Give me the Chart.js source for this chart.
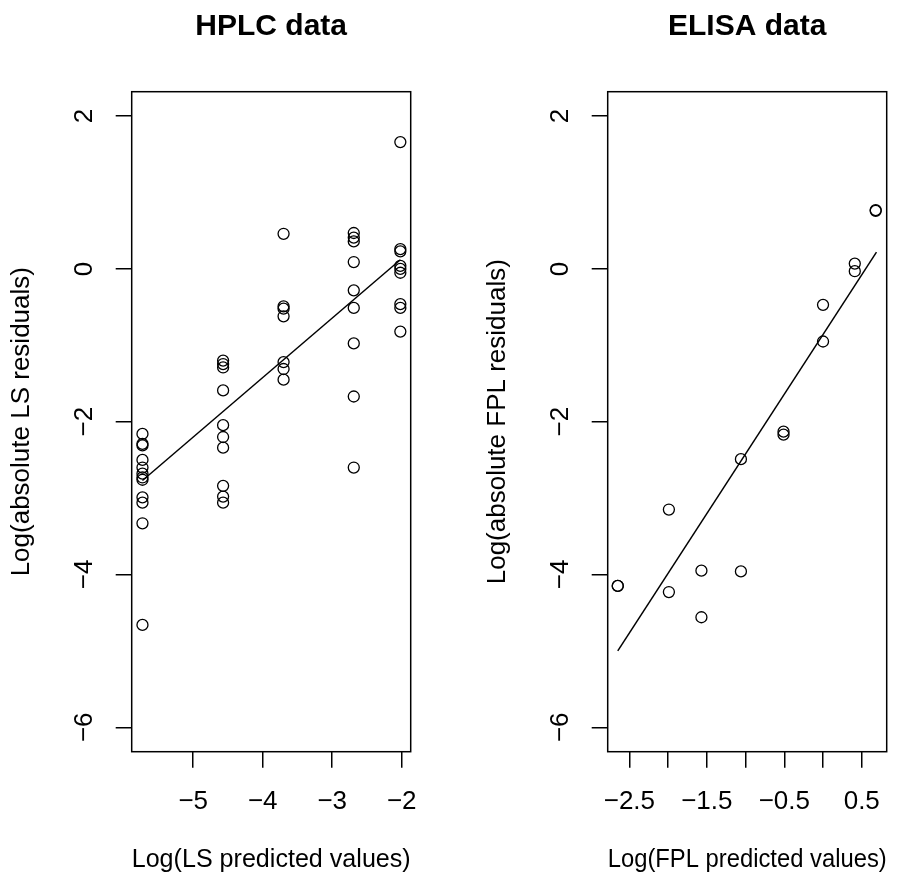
<!DOCTYPE html>
<html>
<head>
<meta charset="utf-8">
<title>HPLC and ELISA residual plots</title>
<script src="https://cdn.jsdelivr.net/npm/chart.js@4"></script>
<style>
  html, body { margin: 0; padding: 0; background: #fff; }
  #wrap { position: relative; width: 905px; height: 878px; overflow: hidden; }
  .panel { position: absolute; top: 0; height: 878px; }
</style>
</head>
<body>
<div id="wrap">
  <div class="panel" style="left:0;width:476px"><canvas id="hplcChart" width="476" height="878"></canvas></div>
  <div class="panel" style="left:476px;width:429px"><canvas id="elisaChart" width="429" height="878"></canvas></div>
</div>
<script>
// log predicted value for each concentration level, and log |residual| of the replicates at that level
const hplcLevels = [-5.73, -4.57, -3.70, -2.69, -2.02];
const hplcResiduals = [
  [-2.16, -2.29, -2.31, -2.50, -2.60, -2.68, -2.73, -2.76, -2.99, -3.06, -3.33, -4.66],
  [-1.20, -1.245, -1.29, -1.59, -2.045, -2.20, -2.34, -2.84, -2.98, -3.06],
  [0.46, -0.49, -0.52, -0.62, -1.22, -1.31, -1.45],
  [0.47, 0.41, 0.36, 0.09, -0.28, -0.51, -0.975, -1.67, -2.60],
  [1.66, 0.26, 0.23, 0.04, 0.00, -0.05, -0.46, -0.51, -0.82]
];
const hplcFitX = [-5.73, -2.02];
const hplcFitY = [-2.77, 0.12];

const elisaLevels = [-2.65, -1.99, -1.57, -1.06, -0.51, 0.00, 0.41, 0.68];
const elisaResiduals = [
  [-4.15, -4.15],
  [-3.15, -4.23],
  [-3.95, -4.56],
  [-3.96, -2.49],
  [-2.13, -2.17],
  [-0.47, -0.95],
  [0.07, -0.03],
  [0.76, 0.77]
];
const elisaFitX = [-2.65, 0.69];
const elisaFitY = [-5.00, 0.22];

// axes
const yTicks = [-6, -4, -2, 0, 2];
const yTickLabels = ['\u22126', '\u22124', '\u22122', '0', '2'];
const hplcXTicks = [-5, -4, -3, -2];
const hplcXTickLabels = ['\u22125', '\u22124', '\u22123', '\u22122'];
const elisaXTicks = [-2.5, -2, -1.5, -1, -0.5, 0, 0.5];
const elisaXTickLabels = ['\u22122.5', '', '\u22121.5', '', '\u22120.5', '', '0.5'];

const FONT = '"Liberation Sans", Arial, Helvetica, sans-serif';

// closed box around the plot region plus y tick labels written along the axis
const rFrame = {
  id: 'rFrame',
  afterDraw(chart) {
    const { ctx, chartArea: a, scales: { y } } = chart;
    ctx.save();
    ctx.strokeStyle = '#000';
    ctx.lineWidth = 1.5;
    ctx.strokeRect(a.left, a.top, a.right - a.left, a.bottom - a.top);
    ctx.fillStyle = '#000';
    ctx.font = '26px ' + FONT;
    ctx.textAlign = 'center';
    ctx.textBaseline = 'middle';
    y.ticks.forEach((t, i) => {
      ctx.save();
      ctx.translate(a.left - 46.5, y.getPixelForValue(t.value));
      ctx.rotate(-Math.PI / 2);
      ctx.fillText(yTickLabels[i], 0, 0);
      ctx.restore();
    });
    ctx.restore();
  }
};

function toPoints(levels, residuals) {
  const pts = [];
  levels.forEach((x, i) => residuals[i].forEach(y => pts.push({ x, y })));
  return pts;
}

function makePanel(id, cfg) {
  const tickGrid = {
    drawOnChartArea: false,
    drawTicks: true,
    tickLength: 16,
    color: '#000',
    lineWidth: 1.5
  };
  new Chart(document.getElementById(id), {
    type: 'scatter',
    data: {
      datasets: [
        {
          type: 'scatter',
          data: toPoints(cfg.levels, cfg.residuals),
          pointStyle: 'circle',
          pointRadius: 5.5,
          pointHoverRadius: 5.5,
          pointBorderWidth: 1.3,
          pointBorderColor: '#000',
          pointBackgroundColor: 'rgba(0,0,0,0)',
          borderColor: '#000',
          backgroundColor: 'rgba(0,0,0,0)'
        },
        {
          type: 'line',
          data: cfg.fitX.map((x, i) => ({ x, y: cfg.fitY[i] })),
          borderColor: '#000',
          borderWidth: 1.5,
          pointRadius: 0,
          fill: false,
          tension: 0
        }
      ]
    },
    options: {
      responsive: false,
      devicePixelRatio: 1,
      animation: false,
      events: [],
      layout: { padding: { left: 0, top: 0, bottom: 0, right: cfg.rightPad } },
      plugins: {
        legend: { display: false },
        tooltip: { enabled: false },
        title: {
          display: true,
          text: cfg.title,
          fullSize: false,
          color: '#000',
          font: { family: FONT, size: 30, weight: 'bold' },
          padding: { top: 8.9, bottom: 46.8 }
        }
      },
      scales: {
        x: {
          type: 'linear',
          min: cfg.xRange[0],
          max: cfg.xRange[1],
          afterBuildTicks: s => { s.ticks = cfg.xTicks.map(v => ({ value: v })); },
          afterFit: s => { s.height = 126.3; },
          grid: tickGrid,
          border: { display: false },
          ticks: {
            autoSkip: false,
            maxRotation: 0,
            padding: 18.4,
            color: '#000',
            font: { family: FONT, size: 26 },
            callback: (v, i) => cfg.xTickLabels[i]
          },
          title: {
            display: true,
            text: cfg.xTitle,
            color: '#000',
            font: { family: FONT, size: 26 },
            padding: { top: 0, bottom: 3 }
          }
        },
        y: {
          type: 'linear',
          min: -6.32,
          max: 2.32,
          afterBuildTicks: s => { s.ticks = yTicks.map(v => ({ value: v })); },
          afterFit: s => { s.width = 131.7; },
          grid: tickGrid,
          border: { display: false },
          ticks: { display: false },
          title: {
            display: true,
            text: cfg.yTitle,
            color: '#000',
            font: { family: FONT, size: 26 },
            padding: { top: 6.1, bottom: 0 }
          }
        }
      }
    },
    plugins: [rFrame]
  });
}

makePanel('hplcChart', {
  title: 'HPLC data',
  levels: hplcLevels,
  residuals: hplcResiduals,
  fitX: hplcFitX,
  fitY: hplcFitY,
  xRange: [-5.885, -1.871],
  xTicks: hplcXTicks,
  xTickLabels: hplcXTickLabels,
  xTitle: 'Log(LS predicted values)',
  yTitle: 'Log(absolute LS residuals)',
  rightPad: 65.3
});

makePanel('elisaChart', {
  title: 'ELISA data',
  levels: elisaLevels,
  residuals: elisaResiduals,
  fitX: elisaFitX,
  fitY: elisaFitY,
  xRange: [-2.780, 0.822],
  xTicks: elisaXTicks,
  xTickLabels: elisaXTickLabels,
  xTitle: 'Log(FPL predicted values)',
  yTitle: 'Log(absolute FPL residuals)',
  rightPad: 18.3
});
</script>
</body>
</html>
